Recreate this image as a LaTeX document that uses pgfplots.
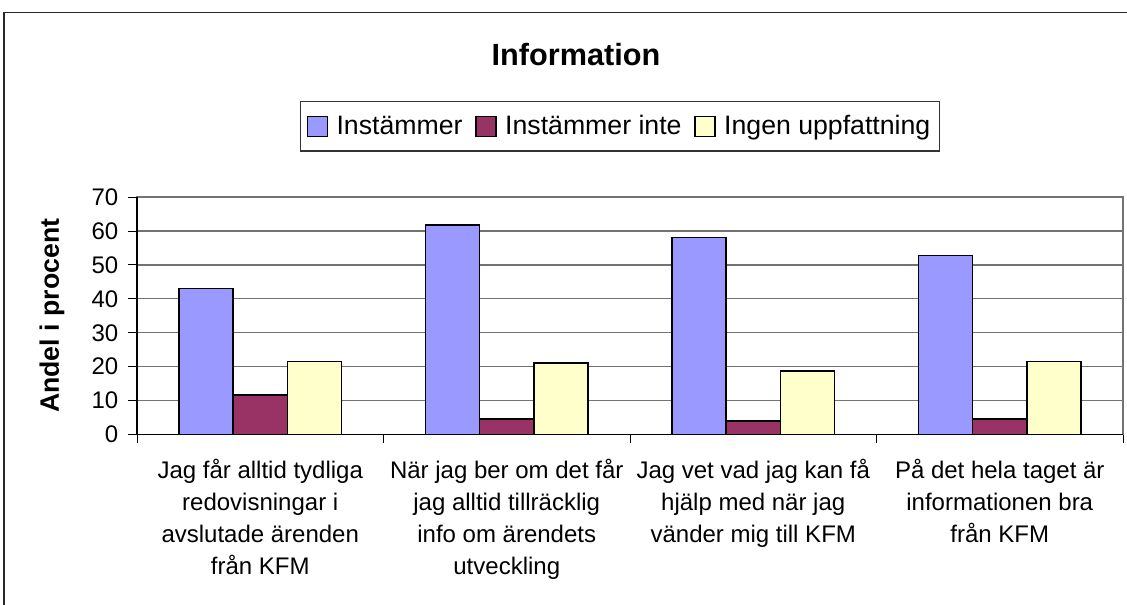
\documentclass[border=0pt]{standalone}
\usepackage{pgfplots}
\pgfplotsset{compat=1.18}
\usepackage{fontspec}
\setmainfont{Liberation Sans}
\definecolor{cBlue}{HTML}{9999FF}
\definecolor{cRed}{HTML}{993366}
\definecolor{cYel}{HTML}{FFFFCC}
\begin{document}
\begin{tikzpicture}
\useasboundingbox (0pt,0pt) rectangle (845.25pt,-453.75pt);
\clip (0pt,0pt) rectangle (845.25pt,-453.75pt);
\draw[black!85, line width=1.1pt] (3pt,-9.5pt) rectangle (870pt,-480pt);
\node[font=\bfseries\fontsize{23}{27}\selectfont] at (432pt,-41pt) {Information};
\begin{axis}[
  at={(102.75pt,-325.9pt)}, anchor=south west,
  scale only axis, width=739.5pt, height=178.1pt,
  xmin=-0.5, xmax=3.5, ymin=0, ymax=70,
  ytick={0,10,...,70},
  xtick={-0.5,0.5,1.5,2.5,3.5}, xticklabels={},
  extra x ticks={0,1,2,3},
  extra x tick labels={Jag får alltid tydliga\\redovisningar i\\avslutade ärenden\\från KFM,
    När jag ber om det får\\jag alltid tillräcklig\\info om ärendets\\utveckling,
    Jag vet vad jag kan få\\hjälp med när jag\\vänder mig till KFM,
    På det hela taget är\\informationen bra\\från KFM},
  extra x tick style={major tick length=0pt},
  xticklabel style={align=center, font=\fontsize{18}{24}\selectfont, anchor=north, yshift=-15pt},
  yticklabel style={font=\fontsize{18}{21}\selectfont, xshift=-4pt},
  /pgf/number format/assume math mode=true,
  xtick pos=left, ytick pos=left,
  tick align=outside, major tick length=6.5pt,
  tick style={black, line width=0.7pt},
  ymajorgrids, grid style={black!55, line width=0.9pt},
  axis line style={black!55, line width=0.9pt},
  after end axis/.code={\draw[black, line width=0.9pt] (rel axis cs:0,1) -- (rel axis cs:0,0) -- (rel axis cs:1,0);},
  ybar=0pt, bar width=0.22,
  ylabel={\textbf{Andel i procent}},
  ylabel style={at={(axis description cs:-0.0862,0.5)}, anchor=center, font=\fontsize{20}{24}\selectfont},
  legend columns=-1,
  legend style={at={(axis description cs:0.1653,1)}, anchor=north west, yshift=72pt,
    draw=black!80, line width=0.9pt, font=\fontsize{20}{24}\selectfont,
    inner ysep=8.5pt, inner xsep=4.5pt,
    nodes={inner xsep=2.5pt, inner ysep=2pt},
    /tikz/every odd column/.append style={column sep=4pt},
    /tikz/every even column/.append style={column sep=7pt}},
  legend image code/.code={\draw[#1, line width=1pt] (0pt,-7.5pt) rectangle (15pt,7.5pt);},
]
\addplot[fill=cBlue, draw=black, line width=1.1pt] coordinates {(0,43) (1,61.7) (2,58.1) (3,52.8)};
\addplot[fill=cRed, draw=black, line width=1.1pt] coordinates {(0,11.6) (1,4.6) (2,4.0) (3,4.6)};
\addplot[fill=cYel, draw=black, line width=1.1pt] coordinates {(0,21.6) (1,21.1) (2,18.7) (3,21.6)};
\legend{Instämmer, Instämmer inte, Ingen uppfattning}
\end{axis}
\end{tikzpicture}
\end{document}
